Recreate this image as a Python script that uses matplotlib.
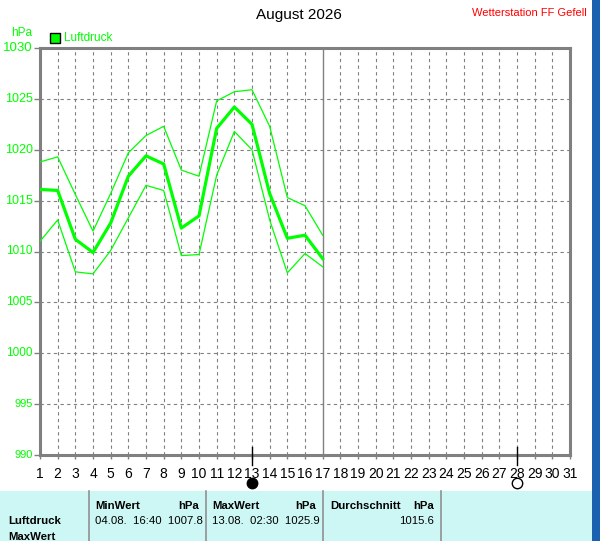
import matplotlib.pyplot as plt
import matplotlib.patches as patches
import matplotlib.transforms as mtransforms

# Daten: Luftdruck August 2026 (Tagesmittel, Tagesmax, Tagesmin)
tage = list(range(1, 18))
luftdruck_mittel = [1016.1, 1016.0, 1011.2, 1009.9, 1012.8, 1017.4, 1019.4, 1018.6, 1012.3,
                    1013.5, 1022.1, 1024.2, 1022.5, 1015.7, 1011.3, 1011.6, 1009.3]
luftdruck_max = [1018.8, 1019.3, 1015.6, 1012.0, 1015.7, 1019.7, 1021.4, 1022.3, 1018.0,
                 1017.4, 1024.8, 1025.7, 1025.9, 1022.3, 1015.3, 1014.5, 1011.6]
luftdruck_min = [1011.0, 1013.1, 1008.0, 1007.8, 1010.1, 1013.3, 1016.5, 1016.0, 1009.6,
                 1009.7, 1017.5, 1021.8, 1020.0, 1013.1, 1007.9, 1009.8, 1008.5]

y_ticks = [990, 995, 1000, 1005, 1010, 1015, 1020, 1025, 1030]
y_label_groesse = [8, 8, 8.5, 8.5, 8.5, 9, 9, 9, 9.5]
x_ticks = list(range(1, 32))

tabelle_kopf = ['MinWert', 'MaxWert', 'Durchschnitt']
tabelle_werte = ['04.08.  16:40  1007.8', '13.08.  02:30  1025.9', '1015.6']
vollmond_tag = 13
neumond_tag = 28
heute = 17

W, H = 600, 541
GRUEN = '#00ff00'
GRAU = '#808080'

plt.rcParams['font.family'] = ['Liberation Sans', 'DejaVu Sans']

fig = plt.figure(figsize=(W / 100, H / 100), dpi=100)
fig.patch.set_facecolor('white')


def fx(x):
    return x / W


def fy(y):
    return 1 - y / H


# Plotbereich
ax = fig.add_axes([fx(40), fy(455), fx(570) - fx(40), fy(48) - fy(455)])
ax.set_xlim(1, 31)
ax.set_ylim(990, 1030)

for d in x_ticks[1:-1]:
    if d == heute:
        ax.axvline(d, color=GRAU, lw=1.0, zorder=1)
    else:
        ax.axvline(d, color=GRAU, lw=0.8, ls=(0, (3, 3)), zorder=1)
for v in y_ticks[1:-1]:
    ax.axhline(v, color=GRAU, lw=0.8, ls=(0, (3, 3)), zorder=1)

ax.plot(tage, luftdruck_max, color=GRUEN, lw=0.9, zorder=3)
ax.plot(tage, luftdruck_min, color=GRUEN, lw=0.9, zorder=3)
ax.plot(tage, luftdruck_mittel, color=GRUEN, lw=2.3, zorder=4)

for s in ax.spines.values():
    s.set_color(GRAU)
    s.set_linewidth(2.2)

ax.set_yticks(y_ticks)
ax.set_yticklabels([])
ax.set_xticks(x_ticks)
ax.set_xticklabels([str(d) for d in x_ticks], fontsize=10)
ax.tick_params(axis='y', direction='out', length=4, color=GRAU, width=1)
ax.tick_params(axis='x', direction='out', length=3, color=GRAU, width=1, pad=6)

# y-Beschriftung mit abnehmender Schriftgroesse (7 px links der Achse)
versatz = mtransforms.ScaledTranslation(-7 / 100, 0, fig.dpi_scale_trans)
for v, fs in zip(y_ticks, y_label_groesse):
    ax.text(0, v, str(v), transform=ax.get_yaxis_transform() + versatz, ha='right',
            va='center', color=GRUEN, fontsize=fs)

# Mondphasen
for tag, fc in [(vollmond_tag, 'black'), (neumond_tag, 'white')]:
    ax.plot([tag, tag], [990.8, 989.0], color='black', lw=1, clip_on=False, zorder=5)
    ax.plot([tag], [987.25], marker='o', ms=7.5, mfc=fc, mec='black', mew=1,
            clip_on=False, zorder=5)

# Ueberschriften
fig.text(fx(299), fy(15), 'August 2026', ha='center', va='center', fontsize=11)
fig.text(fx(587), fy(13), 'Wetterstation FF Gefell', ha='right', va='center',
         fontsize=8, color='red')
fig.text(fx(11), fy(33), 'hPa', ha='left', va='center', fontsize=8.5, color=GRUEN)
fig.patches.append(patches.Rectangle((fx(50), fy(43)), fx(10), 10 / H, transform=fig.transFigure,
                                     facecolor=GRUEN, edgecolor='black', lw=1))
fig.text(fx(64), fy(38), 'Luftdruck', ha='left', va='center', fontsize=8.5, color=GRUEN)

# Tabelle unten
fig.patches.append(patches.Rectangle((0, 0), fx(592), fy(491), transform=fig.transFigure,
                                     facecolor='#ccf7f4', edgecolor='none'))
for xd in [89, 206, 323, 441]:
    fig.add_artist(plt.Line2D([fx(xd), fx(xd)], [0, fy(491)], color='#909090', lw=1.2))

fig.text(fx(8), fy(521), 'Luftdruck', ha='left', va='center', fontsize=8.2, fontweight='bold')
fig.text(fx(8), fy(537), 'MaxWert', ha='left', va='center', fontsize=8.2, fontweight='bold')
spalten = [(95, 199), (212, 316), (330, 434)]
for (xl, xr), kopf, wert in zip(spalten, tabelle_kopf, tabelle_werte):
    fig.text(fx(xl), fy(506), kopf, ha='left', va='center', fontsize=8.2, fontweight='bold')
    fig.text(fx(xr), fy(506), 'hPa', ha='right', va='center', fontsize=8.2, fontweight='bold')
    if kopf == 'Durchschnitt':
        fig.text(fx(xr), fy(521), wert, ha='right', va='center', fontsize=8.2)
    else:
        fig.text(fx(xl), fy(521), wert, ha='left', va='center', fontsize=8.2)

# blauer Rand rechts
fig.patches.append(patches.Rectangle((fx(592), 0), fx(8), 1, transform=fig.transFigure,
                                     facecolor='#1a62b0', edgecolor='none'))

plt.savefig('out.png', dpi=100)
plt.close()
